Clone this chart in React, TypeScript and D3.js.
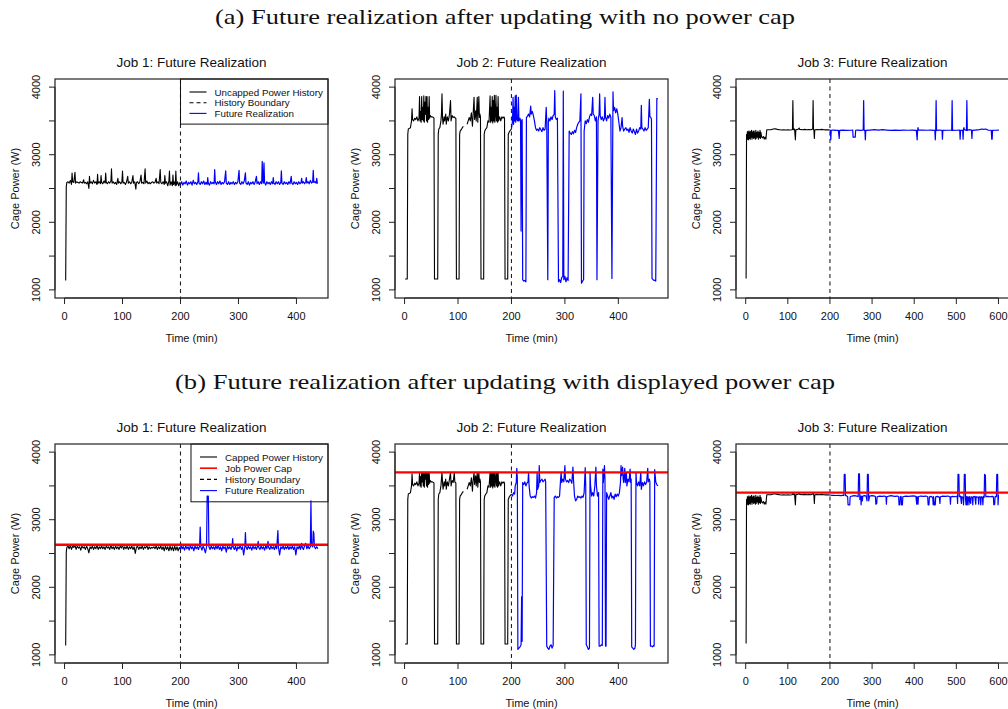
import React from 'react';
import * as d3 from 'd3';

type Pt = [number, number];

// ---------- Data (time in minutes, cage power in W) ----------
const job1HistA: Pt[] = [[2,1140],[3,2530],[4,2590],[6,2600],[8,2580],[10,2620],[12,2560],[13,2730],[14,2600],[16,2590],[18,2740],[19,2580],[21,2600],[23,2590],[25,2580],[27,2600],[29,2590],[31,2580],[33,2630],[34,2580],[36,2590],[38,2570],[40,2600],[42,2500],[43,2680],[44,2580],[46,2600],[48,2570],[50,2620],[52,2580],[54,2600],[56,2560],[57,2710],[58,2580],[60,2600],[62,2570],[63,2690],[64,2590],[66,2570],[68,2610],[70,2580],[71,2730],[72,2590],[74,2570],[76,2600],[78,2580],[80,2610],[81,2790],[82,2580],[84,2600],[86,2570],[88,2590],[90,2560],[92,2650],[93,2580],[95,2600],[97,2570],[99,2600],[100,2760],[101,2580],[103,2590],[105,2560],[107,2600],[109,2680],[110,2580],[112,2600],[114,2570],[116,2590],[118,2690],[119,2580],[121,2600],[123,2490],[124,2590],[126,2600],[128,2570],[130,2600],[132,2700],[133,2580],[135,2590],[137,2570],[139,2790],[140,2580],[142,2610],[144,2570],[146,2590],[148,2570],[150,2590],[152,2600],[154,2580],[156,2590],[158,2650],[159,2580],[161,2600],[163,2570],[165,2780],[166,2590],[168,2570],[170,2600],[172,2560],[173,2690],[174,2580],[176,2600],[178,2540],[180,2610],[181,2760],[182,2550],[184,2600],[186,2540],[187,2700],[188,2560],[190,2600],[191,2540],[192,2760],[193,2550],[195,2600],[197,2540],[199,2590],[200,2560]];

const job1FutA: Pt[] = [[200,2560],[202,2600],[204,2550],[206,2590],[208,2570],[210,2610],[212,2550],[214,2590],[216,2570],[218,2600],[220,2550],[222,2620],[224,2570],[226,2590],[228,2560],[230,2600],[231,2730],[232,2580],[234,2560],[236,2600],[238,2570],[240,2610],[242,2560],[244,2590],[246,2560],[247,2660],[248,2580],[250,2550],[252,2600],[254,2570],[256,2590],[258,2570],[259,2780],[260,2600],[262,2560],[264,2600],[266,2570],[268,2610],[270,2560],[272,2590],[274,2570],[276,2600],[278,2760],[279,2580],[281,2560],[283,2600],[285,2560],[287,2590],[289,2570],[291,2600],[293,2560],[295,2590],[297,2570],[299,2600],[301,2770],[302,2580],[304,2560],[306,2600],[308,2570],[310,2610],[312,2730],[313,2580],[315,2560],[317,2600],[319,2550],[321,2590],[323,2570],[325,2600],[327,2560],[329,2600],[331,2680],[332,2570],[334,2600],[336,2560],[338,2600],[340,2570],[341,2900],[342,2620],[343,2580],[344,2880],[345,2590],[347,2550],[349,2600],[351,2570],[353,2590],[355,2560],[357,2600],[359,2570],[360,2660],[361,2580],[363,2560],[365,2600],[367,2570],[369,2600],[371,2560],[373,2590],[374,2760],[375,2580],[377,2560],[379,2600],[381,2570],[383,2590],[385,2560],[387,2600],[389,2570],[391,2680],[392,2580],[394,2560],[396,2600],[398,2570],[400,2590],[402,2560],[404,2600],[406,2570],[408,2590],[409,2650],[410,2580],[412,2600],[414,2570],[416,2600],[417,2660],[418,2580],[420,2600],[422,2570],[424,2620],[426,2580],[428,2600],[429,2770],[430,2590],[432,2600],[434,2580],[435,2650],[436,2580],[437,2580]];

const job1HistB: Pt[] = [[2,1140],[3,2520],[4,2590],[6,2610],[8,2570],[10,2620],[12,2560],[14,2610],[16,2590],[18,2620],[20,2560],[22,2610],[24,2580],[26,2600],[28,2550],[30,2610],[32,2580],[34,2600],[36,2560],[38,2610],[40,2570],[42,2510],[44,2600],[46,2570],[48,2610],[50,2560],[52,2600],[54,2570],[56,2620],[58,2560],[60,2600],[62,2570],[64,2610],[66,2570],[68,2600],[70,2560],[72,2610],[74,2580],[76,2600],[78,2560],[80,2620],[82,2570],[84,2600],[86,2560],[88,2610],[90,2570],[92,2600],[94,2560],[96,2610],[98,2580],[100,2620],[102,2560],[104,2600],[106,2570],[108,2610],[110,2560],[112,2600],[114,2570],[116,2610],[118,2560],[120,2600],[122,2500],[124,2590],[126,2610],[128,2560],[130,2600],[132,2570],[134,2610],[136,2560],[138,2600],[140,2580],[142,2620],[144,2560],[146,2600],[148,2570],[150,2590],[152,2580],[154,2600],[156,2570],[158,2610],[160,2560],[162,2600],[164,2570],[166,2610],[168,2560],[170,2600],[172,2540],[174,2610],[176,2560],[178,2600],[180,2540],[182,2610],[184,2550],[186,2600],[188,2540],[190,2610],[192,2550],[194,2600],[196,2540],[198,2590],[200,2560]];

const job1FutB: Pt[] = [[200,2560],[201,2640],[203,2570],[205,2600],[207,2550],[209,2610],[211,2570],[213,2600],[215,2550],[217,2620],[219,2570],[221,2600],[223,2540],[225,2610],[227,2570],[229,2600],[231,2560],[233,2610],[234,2890],[235,2600],[237,2550],[239,2610],[241,2570],[243,2510],[245,2600],[246,3350],[248,3350],[249,2600],[251,2560],[253,2610],[255,2570],[257,2600],[259,2560],[261,2610],[263,2570],[265,2620],[267,2560],[269,2600],[271,2540],[273,2610],[275,2570],[277,2600],[279,2520],[281,2610],[283,2570],[285,2600],[287,2560],[289,2610],[290,2720],[291,2590],[293,2560],[295,2610],[297,2540],[299,2600],[301,2570],[303,2620],[305,2560],[307,2600],[309,2480],[311,2600],[312,2810],[313,2600],[315,2560],[317,2610],[319,2570],[321,2600],[323,2550],[325,2610],[327,2570],[329,2600],[331,2560],[333,2610],[334,2680],[335,2590],[337,2560],[339,2610],[341,2570],[343,2600],[345,2550],[347,2610],[349,2570],[351,2680],[352,2590],[354,2560],[356,2610],[358,2570],[360,2600],[362,2560],[364,2610],[366,2570],[368,2840],[369,2590],[371,2480],[373,2600],[375,2570],[377,2610],[379,2560],[381,2600],[383,2570],[385,2610],[387,2560],[389,2600],[391,2570],[393,2610],[395,2560],[397,2600],[399,2480],[401,2600],[403,2570],[405,2610],[407,2560],[409,2650],[410,2590],[412,2560],[414,2610],[416,2650],[418,2570],[420,2610],[422,2570],[424,2600],[425,3280],[426,2620],[428,2600],[429,2830],[430,2800],[431,2600],[433,2570],[435,2600],[437,2570]];

const job2HistA: Pt[] = [[1,1160],[5,1160],[6,3300],[7,3380],[9,3390],[11,3400],[12,3450],[13,3500],[14,3680],[15,3520],[17,3500],[19,3540],[21,3520],[23,3560],[25,3500],[27,3540],[28,3860],[29,3500],[30,3640],[31,3480],[32,3860],[33,3520],[34,3700],[35,3500],[36,3870],[37,3480],[38,3780],[39,3600],[40,3860],[41,3500],[42,3860],[43,3480],[44,3700],[45,3520],[46,3860],[47,3540],[48,3580],[50,3560],[52,3560],[54,3550],[55,3540],[56,1160],[62,1160],[63,3300],[64,3380],[66,3400],[68,3500],[69,3600],[70,3900],[71,3550],[72,3450],[74,3560],[75,3500],[77,3600],[78,3450],[80,3560],[82,3500],[84,3600],[86,3800],[87,3500],[89,3580],[91,3550],[93,3560],[95,3540],[96,3540],[97,1160],[102,1160],[103,3300],[104,3350],[106,3370],[108,3400],[110,3420],[112,NaN],[117,3450],[119,3500],[121,3550],[123,3500],[125,3620],[127,3420],[128,3560],[130,3850],[131,3520],[133,3650],[134,3500],[136,3850],[137,3480],[139,3860],[140,3550],[141,3600],[142,3560],[143,1160],[148,1160],[149,3300],[150,3350],[152,3380],[154,3400],[156,3500],[158,3480],[160,3870],[161,3480],[162,3700],[163,3500],[164,3860],[165,3470],[166,3800],[167,3500],[168,3880],[169,3480],[170,3600],[171,3880],[172,3500],[173,3700],[174,3480],[175,3860],[176,3500],[178,3560],[180,3500],[182,3560],[184,3540],[186,3560],[187,3540],[188,1160],[193,1160],[194,3300],[196,3340],[198,3360],[200,3380]];

const job2FutA: Pt[] = [[200,3380],[202,3500],[203,3850],[204,3450],[205,3700],[206,3500],[207,3870],[208,3480],[209,3880],[210,3520],[212,3500],[213,3850],[214,3500],[216,3540],[217,3500],[218,1870],[219,3500],[220,3520],[221,1150],[223,1130],[225,1140],[227,1120],[228,3550],[230,3570],[232,3600],[234,3560],[236,3720],[237,3600],[239,3640],[241,3580],[243,3500],[245,3400],[247,3360],[249,3380],[251,3350],[253,3400],[255,3370],[257,3340],[259,3400],[261,3360],[263,3380],[265,3700],[266,3500],[268,1150],[269,3480],[270,3540],[272,3500],[274,3560],[276,3520],[278,3580],[280,3600],[281,3950],[282,3560],[284,3520],[286,3540],[288,1120],[290,1150],[292,1110],[294,1180],[296,1200],[297,3940],[298,1150],[300,1200],[302,1120],[304,1180],[306,1140],[308,3350],[310,3320],[312,3300],[314,3340],[316,3310],[318,3360],[320,3330],[322,3400],[324,3450],[326,3480],[328,3500],[330,3900],[331,1100],[333,1130],[335,1150],[336,3350],[338,3500],[340,3460],[342,3520],[344,3480],[346,3560],[348,3600],[350,3580],[352,3850],[353,3600],[355,3580],[357,3500],[359,3560],[360,1150],[362,3500],[364,3600],[365,3900],[366,3580],[368,3520],[370,3560],[372,3500],[374,3540],[375,3850],[376,3560],[378,3500],[380,3580],[382,3540],[384,3600],[386,3550],[388,1170],[390,3930],[391,3650],[393,3700],[395,3620],[397,3680],[399,3600],[401,3480],[403,3350],[405,3400],[407,3550],[408,3420],[410,3350],[412,3380],[414,3400],[416,3360],[418,3380],[420,3330],[422,3400],[424,3350],[426,3320],[428,3380],[430,3340],[432,3300],[434,3380],[436,3320],[438,3350],[440,3400],[442,3380],[443,3730],[444,3400],[446,3380],[448,3350],[450,3400],[452,3360],[454,3380],[456,3400],[458,3820],[459,3560],[461,3550],[462,3520],[463,1170],[465,1150],[467,1140],[469,1140],[470,1130],[472,3830],[474,3830]];

const job2HistB: Pt[] = [[1,1160],[5,1160],[6,3300],[7,3380],[9,3390],[11,3400],[12,3450],[13,3500],[14,3680],[15,3520],[17,3500],[19,3540],[21,3520],[23,3560],[25,3500],[27,3540],[28,3700],[29,3500],[30,3640],[31,3480],[32,3700],[33,3560],[34,3700],[35,3500],[36,3700],[37,3480],[38,3700],[39,3600],[40,3700],[41,3500],[42,3700],[43,3480],[44,3700],[45,3520],[46,3700],[47,3540],[48,3580],[50,3560],[52,3560],[54,3550],[55,3540],[56,1160],[62,1160],[63,3300],[64,3380],[66,3400],[68,3500],[69,3600],[70,3700],[71,3550],[72,3450],[74,3560],[75,3500],[77,3600],[78,3450],[80,3560],[82,3500],[84,3600],[86,3700],[87,3500],[89,3580],[91,3550],[93,3700],[94,3560],[96,3540],[97,1160],[102,1160],[103,3300],[104,3350],[106,3370],[108,3400],[110,3420],[112,NaN],[117,3450],[119,3500],[121,3550],[123,3500],[125,3620],[127,3420],[128,3560],[130,3700],[131,3520],[133,3650],[134,3500],[136,3700],[137,3480],[139,3700],[140,3550],[141,3600],[142,3560],[143,1160],[148,1160],[149,3300],[150,3350],[152,3380],[154,3400],[156,3500],[158,3480],[160,3700],[161,3480],[162,3700],[163,3500],[164,3700],[165,3470],[166,3700],[167,3500],[168,3700],[169,3480],[170,3600],[171,3700],[172,3500],[173,3700],[174,3480],[175,3700],[176,3500],[178,3560],[180,3500],[182,3560],[184,3540],[186,3560],[187,3540],[188,1160],[193,1160],[194,3300],[196,3340],[198,3360],[200,3380]];

const job2FutB: Pt[] = [[200,3380],[202,3350],[204,3400],[206,3380],[207,3500],[209,3550],[210,3760],[211,3600],[212,1080],[214,1100],[216,1120],[218,1150],[219,1860],[220,1200],[221,3550],[223,3520],[225,3560],[227,3500],[229,3540],[231,3560],[232,3700],[233,3500],[235,3350],[237,3320],[239,3340],[241,3330],[243,3350],[245,3320],[247,3400],[248,3700],[249,3450],[251,3500],[252,3800],[253,3550],[255,3580],[257,3600],[259,3560],[261,3580],[263,3600],[264,3560],[266,1130],[268,1100],[270,1080],[272,1130],[274,1150],[276,1100],[278,1140],[280,3330],[282,3350],[284,3320],[286,3340],[288,3330],[290,3350],[292,3600],[293,3700],[294,3550],[296,3600],[298,3560],[300,3800],[301,3600],[303,3560],[305,3580],[307,3550],[309,3600],[311,3580],[313,3540],[315,3780],[316,3600],[318,3350],[320,3280],[322,3300],[324,3350],[326,3330],[328,3340],[330,3320],[332,3350],[334,3330],[336,3400],[338,3770],[339,3500],[340,1150],[342,1120],[344,1080],[346,1100],[347,3700],[348,3500],[350,3350],[352,3400],[354,3350],[356,3500],[358,3780],[359,3500],[361,3350],[363,3400],[364,1130],[366,1130],[368,1150],[370,1140],[371,3750],[372,3550],[374,3800],[375,3600],[376,1130],[377,1130],[378,3400],[380,3350],[382,3300],[384,3350],[386,3400],[388,3320],[390,3350],[392,3300],[394,3380],[396,3340],[398,3380],[400,3350],[402,3400],[404,3550],[405,3800],[406,3650],[408,3780],[409,3600],[410,3550],[412,3760],[413,3550],[415,3700],[416,3500],[418,3600],[420,3560],[422,3750],[423,3550],[424,3600],[425,1120],[427,1100],[429,1080],[431,1100],[432,1150],[433,3700],[434,3550],[436,3500],[438,3560],[440,3500],[442,3700],[443,3450],[445,3550],[447,3500],[449,3560],[451,3520],[453,3560],[455,3760],[456,3560],[458,3600],[459,3560],[460,1130],[462,1130],[464,1120],[466,1140],[467,1130],[468,3740],[470,3560],[472,3520],[474,3500]];

const job3HistA: Pt[] = [[1,1170],[2,3300],[3,3220],[4,3340],[5,3230],[6,3350],[7,3220],[8,3330],[9,3240],[10,3350],[11,3230],[12,3340],[13,3260],[14,3360],[15,3230],[16,3330],[17,3260],[18,3350],[19,3240],[20,3350],[21,3250],[22,3320],[23,3230],[24,3360],[25,3240],[26,3330],[28,3260],[29,3350],[30,3230],[31,3330],[33,3250],[34,3360],[35,3240],[36,3330],[38,3260],[40,3250],[42,3270],[44,3230],[46,3260],[48,3230],[50,3370],[55,3370],[60,3370],[65,3380],[70,3385],[75,3375],[80,3370],[85,3365],[90,3370],[95,3365],[100,3368],[105,3365],[110,3370],[111,3380],[112,3800],[113,3370],[116,3380],[118,3220],[119,3370],[124,3375],[127,3395],[128,3375],[135,3370],[140,3375],[145,3370],[150,3372],[155,3370],[159,3380],[160,3800],[161,3370],[162,3360],[163,3240],[164,3370],[170,3372],[175,3370],[180,3375],[185,3370],[190,3368],[195,3370],[200,3365]];

const job3FutA: Pt[] = [[200,3365],[201,3360],[202,3220],[203,3360],[208,3365],[215,3360],[220,3362],[222,3240],[223,3360],[230,3365],[240,3360],[250,3362],[254,3365],[255,3260],[260,3260],[261,3360],[266,3365],[272,3360],[278,3365],[279,3380],[280,3800],[281,3360],[283,3360],[284,3220],[285,3360],[295,3365],[305,3370],[315,3365],[325,3370],[335,3365],[345,3360],[355,3365],[365,3360],[375,3365],[385,3362],[395,3365],[405,3360],[407,3220],[408,3360],[409,3400],[410,3365],[420,3365],[430,3362],[440,3365],[449,3360],[450,3220],[451,3360],[452,3800],[453,3360],[460,3365],[466,3362],[467,3230],[468,3360],[478,3362],[488,3365],[489,3360],[490,3800],[491,3360],[500,3362],[508,3365],[509,3230],[510,3360],[515,3362],[516,3230],[517,3380],[518,3400],[519,3370],[524,3360],[525,3800],[526,3360],[530,3370],[536,3365],[537,3240],[538,3360],[545,3365],[555,3370],[560,3380],[565,3375],[570,3380],[575,3365],[580,3362],[583,3360],[584,3230],[585,3230],[586,3360],[592,3362],[601,3365]];

const job3HistB: Pt[] = [[1,1170],[2,3300],[3,3220],[4,3340],[5,3230],[6,3350],[7,3220],[8,3330],[9,3240],[10,3350],[11,3230],[12,3340],[13,3260],[14,3360],[15,3230],[16,3330],[17,3260],[18,3350],[19,3240],[20,3350],[21,3250],[22,3320],[23,3230],[24,3360],[25,3240],[26,3330],[28,3260],[29,3350],[30,3230],[31,3330],[33,3250],[34,3360],[35,3240],[36,3330],[38,3260],[40,3250],[42,3270],[44,3230],[46,3260],[48,3230],[50,3370],[55,3370],[60,3370],[65,3380],[70,3385],[75,3375],[80,3370],[85,3365],[90,3370],[95,3365],[100,3368],[105,3365],[110,3370],[111,3380],[112,3400],[113,3370],[116,3380],[118,3220],[119,3370],[124,3375],[127,3395],[128,3375],[135,3370],[140,3375],[145,3370],[150,3372],[155,3370],[159,3380],[160,3400],[161,3370],[162,3360],[163,3240],[164,3370],[170,3372],[175,3370],[180,3375],[185,3370],[190,3368],[195,3370],[200,3365]];

const job3FutB: Pt[] = [[200,3365],[205,3360],[210,3362],[215,3358],[220,3360],[225,3355],[230,3360],[233,3360],[234,3670],[236,3670],[237,3360],[240,3350],[242,3340],[243,3220],[247,3220],[248,3340],[252,3350],[258,3355],[264,3350],[267,3340],[268,3680],[270,3680],[271,3300],[273,3350],[274,3220],[275,3350],[277,3280],[278,3350],[282,3355],[286,3350],[288,3280],[289,3670],[291,3670],[292,3280],[294,3350],[300,3355],[306,3350],[308,3340],[309,3230],[311,3240],[312,3340],[318,3350],[324,3345],[330,3350],[333,3340],[334,3230],[335,3340],[340,3350],[345,3355],[350,3350],[355,3345],[360,3350],[363,3340],[364,3220],[366,3220],[367,3340],[369,3345],[370,3220],[372,3220],[373,3340],[380,3350],[386,3345],[392,3350],[398,3352],[404,3345],[406,3230],[407,3340],[409,3230],[410,3340],[415,3350],[422,3345],[428,3350],[432,3340],[433,3220],[435,3220],[436,3340],[440,3345],[444,3330],[445,3220],[446,3340],[448,3220],[450,3220],[451,3340],[455,3345],[460,3330],[461,3240],[462,3340],[468,3350],[474,3345],[480,3350],[485,3340],[486,3230],[487,3340],[492,3345],[498,3340],[502,3350],[503,3240],[504,3670],[506,3670],[507,3340],[510,3350],[512,3240],[513,3340],[516,3330],[517,3220],[518,3340],[519,3670],[521,3670],[522,3300],[523,3220],[524,3340],[526,3220],[527,3340],[529,3330],[530,3220],[531,3340],[534,3240],[535,3340],[538,3330],[539,3220],[540,3340],[544,3345],[546,3230],[547,3340],[552,3330],[553,3230],[554,3340],[557,3330],[558,3220],[559,3340],[562,3330],[563,3220],[564,3340],[566,3330],[567,3670],[569,3660],[570,3340],[575,3345],[580,3340],[585,3345],[588,3340],[589,3220],[591,3230],[592,3340],[595,3340],[596,3670],[598,3670],[599,3220],[600,3360],[601,3360]];

const jobTitles = ['Job 1: Future Realization', 'Job 2: Future Realization', 'Job 3: Future Realization'];
const jobTimeRanges: Pt[] = [[1, 437], [1, 474], [1, 601]];
const jobXTicks = [[0, 100, 200, 300, 400], [0, 100, 200, 300, 400], [0, 100, 200, 300, 400, 500, 600]];
const powerCaps = [2630, 3700, 3400];
const historyBoundary = 200;
const yRange: Pt = [1000, 4000];
const yTicks = [1000, 1500, 2000, 2500, 3000, 3500, 4000];
const yTickLabels = [1000, 2000, 3000, 4000];
const legendA = ['Uncapped Power History', 'History Boundary', 'Future Realization'];
const legendB = ['Capped Power History', 'Job Power Cap', 'History Boundary', 'Future Realization'];
const sectionTitles = [
  '(a) Future realization after updating with no power cap',
  '(b) Future realization after updating with displayed power cap',
];

const histA = [job1HistA, job2HistA, job3HistA];
const futA = [job1FutA, job2FutA, job3FutA];
const histB = [job1HistB, job2HistB, job3HistB];
const futB = [job1FutB, job2FutB, job3FutB];

// ---------- Layout ----------
const W = 1008, H = 709;
const colLeft = [55, 395, 736];
const rowTop = [79, 444];
const PW = 273, PH = 219;
const SANS = '"Liberation Sans", Arial, Helvetica, sans-serif';
const SERIF = '"Liberation Serif", "Times New Roman", serif';

function padDomain([a, b]: Pt): Pt {
  const p = (b - a) * 0.04;
  return [a - p, b + p];
}

type LegendItem = { label: string; kind: 'solid' | 'dash' | 'blue' | 'red' };

function Panel({ col, row }: { col: number; row: number }) {
  const left = colLeft[col];
  const top = rowTop[row];
  const x = d3.scaleLinear().domain(padDomain(jobTimeRanges[col])).range([left, left + PW]);
  const y = d3.scaleLinear().domain(padDomain(yRange)).range([top + PH, top]);
  const line = d3
    .line<Pt>()
    .defined((d) => !isNaN(d[1]))
    .x((d) => x(d[0]))
    .y((d) => y(d[1]));
  const hist = row === 0 ? histA[col] : histB[col];
  const fut = row === 0 ? futA[col] : futB[col];
  const bottom = top + PH;
  const xt = jobXTicks[col];

  let legend: LegendItem[] | null = null;
  let legBox = { x0: 0, x1: 0, y0: 0, rowH: 11 };
  if (col === 0 && row === 0) {
    legend = [
      { label: legendA[0], kind: 'solid' },
      { label: legendA[1], kind: 'dash' },
      { label: legendA[2], kind: 'blue' },
    ];
    legBox = { x0: 180.5, x1: left + PW, y0: top, rowH: 10.7 };
  } else if (col === 0 && row === 1) {
    legend = [
      { label: legendB[0], kind: 'solid' },
      { label: legendB[1], kind: 'red' },
      { label: legendB[2], kind: 'dash' },
      { label: legendB[3], kind: 'blue' },
    ];
    legBox = { x0: 191, x1: left + PW, y0: top, rowH: 11.2 };
  }

  return (
    <g>
      <text x={left + PW / 2} y={top - 12} textAnchor="middle" fontFamily={SANS} fontSize={13.5} fill="#111">
        {jobTitles[col]}
      </text>
      <line x1={x(historyBoundary)} x2={x(historyBoundary)} y1={top} y2={bottom} stroke="#222" strokeWidth={1.1} strokeDasharray="4,3.5" />
      <path d={line(hist) || ''} fill="none" stroke="#000" strokeWidth={1.1} strokeLinejoin="round" />
      <path d={line(fut) || ''} fill="none" stroke="#0000ff" strokeWidth={1.2} strokeLinejoin="round" />
      {row === 1 && (
        <line x1={left} x2={left + PW} y1={y(powerCaps[col])} y2={y(powerCaps[col])} stroke="#ff0000" strokeWidth={2.4} />
      )}
      {legend && (
        <g fontFamily={SANS} fontSize={9.8} fill="#111">
          <rect
            x={legBox.x0}
            y={legBox.y0}
            width={legBox.x1 - legBox.x0}
            height={legBox.rowH * legend.length + 13}
            fill="none"
            stroke="#111"
            strokeWidth={1}
          />
          {legend.map((it, i) => {
            const cy = legBox.y0 + 13 + i * legBox.rowH;
            const stroke = it.kind === 'blue' ? '#0000ff' : it.kind === 'red' ? '#ff0000' : '#000';
            return (
              <g key={i}>
                <line
                  x1={legBox.x0 + 9}
                  x2={legBox.x0 + 26}
                  y1={cy}
                  y2={cy}
                  stroke={stroke}
                  strokeWidth={it.kind === 'red' ? 1.6 : 1.1}
                  strokeDasharray={it.kind === 'dash' ? '4,3' : undefined}
                />
                <text x={legBox.x0 + 34} y={cy} dominantBaseline="central">
                  {it.label}
                </text>
              </g>
            );
          })}
        </g>
      )}
      <rect x={left} y={top} width={PW} height={PH} fill="none" stroke="#222" strokeWidth={1.2} />
      {/* x axis */}
      <line x1={x(xt[0])} x2={x(xt[xt.length - 1])} y1={bottom} y2={bottom} stroke="#222" strokeWidth={1} />
      {xt.map((t) => (
        <g key={t}>
          <line x1={x(t)} x2={x(t)} y1={bottom} y2={bottom + 6} stroke="#222" strokeWidth={1} />
          <text x={x(t)} y={bottom + 22} textAnchor="middle" fontFamily={SANS} fontSize={11} fill="#111">
            {t}
          </text>
        </g>
      ))}
      <text x={left + PW / 2} y={bottom + 44} textAnchor="middle" fontFamily={SANS} fontSize={11} fill="#111">
        Time (min)
      </text>
      {/* y axis */}
      <line x1={left} x2={left} y1={y(yTicks[0])} y2={y(yTicks[yTicks.length - 1])} stroke="#222" strokeWidth={1} />
      {yTicks.map((v) => (
        <line key={v} x1={left - 6} x2={left} y1={y(v)} y2={y(v)} stroke="#222" strokeWidth={1} />
      ))}
      {yTickLabels.map((v) => (
        <text
          key={v}
          transform={`translate(${left - 15},${y(v)}) rotate(-90)`}
          textAnchor="middle"
          fontFamily={SANS}
          fontSize={11}
          fill="#111"
        >
          {v}
        </text>
      ))}
      <text
        transform={`translate(${left - 36},${top + PH / 2}) rotate(-90)`}
        textAnchor="middle"
        fontFamily={SANS}
        fontSize={11}
        fill="#111"
      >
        Cage Power (W)
      </text>
    </g>
  );
}

export default function App() {
  return (
    <svg width={W} height={H} style={{ display: 'block', position: 'absolute', left: 0, top: 0, background: '#fff' }}>
      <rect x={0} y={0} width={W} height={H} fill="#fff" />
      <text x={505} y={24} textAnchor="middle" fontFamily={SERIF} fontSize={22} fill="#111" textLength={580} lengthAdjust="spacingAndGlyphs">
        {sectionTitles[0]}
      </text>
      <text x={505} y={389} textAnchor="middle" fontFamily={SERIF} fontSize={22} fill="#111" textLength={660} lengthAdjust="spacingAndGlyphs">
        {sectionTitles[1]}
      </text>
      {[0, 1].map((row) => [0, 1, 2].map((col) => <Panel key={`${row}-${col}`} row={row} col={col} />))}
    </svg>
  );
}
